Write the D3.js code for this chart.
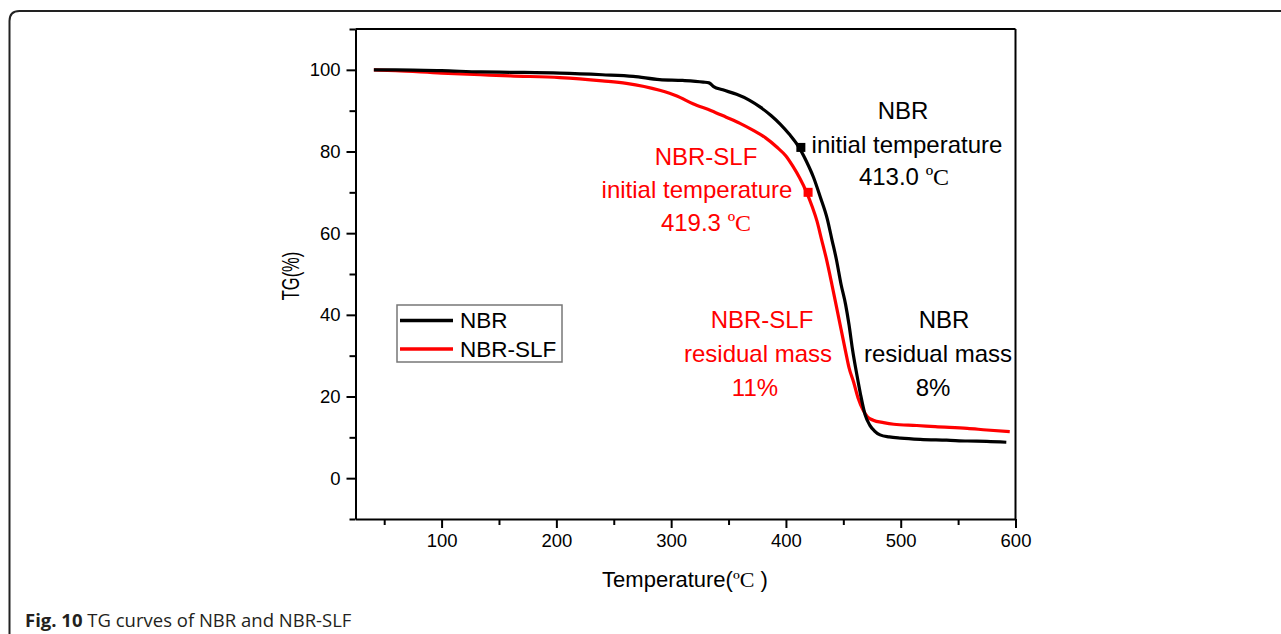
<!DOCTYPE html>
<html lang="en">
<head>
  <meta charset="UTF-8">
  <title>TG curves of NBR and NBR-SLF</title>
  <script src="https://d3js.org/d3.v7.min.js"></script>
  <style>
    body { margin: 0; background: #fff; }
    svg { display: block; }
    text { font-family: "Liberation Sans", Arial, sans-serif; }
    .axis path, .axis line { stroke: #000; stroke-width: 2px; }
    .axis text { font-size: 18.5px; fill: #000; }
    .curve { fill: none; stroke-width: 3.2px; stroke-linejoin: round; }
    .note { font-size: 24px; text-anchor: middle; }
    .deg { font-family: "Liberation Serif", "Times New Roman", serif; }
    .caption { font-family: "Open Sans", sans-serif; font-size: 18.5px; fill: #231f20; }
  </style>
</head>
<body>
  <svg width="1281" height="634"></svg>

  <script>
    // values
    const tempNBR = [41, 60, 100, 134, 160, 203, 240, 267, 290, 310, 328, 333, 337, 345, 357, 368, 378, 387, 395, 403, 411, 418, 424, 430, 436, 440, 444, 448, 452, 455, 458, 462, 465, 469, 473, 477, 482, 490, 500, 517, 540, 558, 575, 592];
    const tgNBR = [100, 100, 99.8, 99.5, 99.4, 99.2, 98.8, 98.4, 97.6, 97.4, 97.0, 96.8, 95.9, 95.1, 94.0, 92.6, 90.8, 88.8, 86.7, 84.2, 81.2, 77.5, 73.7, 68.8, 63.5, 58.5, 53.5, 47.5, 42.5, 37.5, 31.5, 25.0, 20.5, 15.5, 13.0, 11.6, 10.6, 10.1, 9.8, 9.5, 9.3, 9.1, 9.0, 8.8];

    const tempSLF = [41, 60, 100, 134, 160, 203, 240, 261, 290, 305, 319, 335, 348, 360, 372, 382, 392, 400, 406, 412, 418, 423, 427, 431, 435, 440, 444, 448, 452, 455, 459, 463, 467, 471, 476, 485, 494, 514, 530, 558, 575, 595];
    const tgSLF = [100, 99.8, 99.2, 98.8, 98.5, 98.1, 97.3, 96.7, 95.0, 93.6, 91.7, 90.0, 88.4, 86.9, 85.1, 83.4, 81.1, 78.9, 76.4, 73.5, 70.0, 66.4, 63.0, 58.5, 54.0, 47.5, 42.0, 36.5, 31.0, 27.0, 23.5, 19.5, 16.8, 15.0, 14.2, 13.6, 13.2, 12.9, 12.6, 12.2, 11.8, 11.4];

    const xMajor = [100, 200, 300, 400, 500, 600];
    const xMinor = [50, 150, 250, 350, 450, 550];
    const yMajor = [0, 20, 40, 60, 80, 100];
    const yMinor = [-10, 10, 30, 50, 70, 90, 110];

    // onset points (temperature, TG)
    const onsetNBR = [413.0, 81];
    const onsetSLF = [419.3, 70];

    const svg = d3.select("svg");

    // outer figure frame with rounded corner
    svg.append("path")
      .attr("d", "M9.5,640 L9.5,21 Q9.5,11 19.5,11 L1290,11")
      .attr("fill", "none")
      .attr("stroke", "#222")
      .attr("stroke-width", 2);

    const x = d3.scaleLinear().domain([25, 600]).range([355.5, 1015.5]);
    const y = d3.scaleLinear().domain([-10, 110]).range([519, 29]);

    // minor ticks first, then major axes
    svg.append("g").attr("class", "axis")
      .attr("transform", "translate(0,519)")
      .call(d3.axisBottom(x).tickValues(xMinor).tickSize(6).tickFormat("").tickSizeOuter(0))
      .select(".domain").remove();
    svg.append("g").attr("class", "axis")
      .attr("transform", "translate(355.5,0)")
      .call(d3.axisLeft(y).tickValues(yMinor).tickSize(6).tickFormat("").tickSizeOuter(0))
      .select(".domain").remove();

    const xAxis = svg.append("g").attr("class", "axis")
      .attr("transform", "translate(0,519)")
      .call(d3.axisBottom(x).tickValues(xMajor).tickSize(9).tickPadding(6).tickSizeOuter(0));
    xAxis.selectAll("text").attr("dy", "0.71em");

    svg.append("g").attr("class", "axis")
      .attr("transform", "translate(355.5,0)")
      .call(d3.axisLeft(y).tickValues(yMajor).tickSize(9).tickPadding(6).tickSizeOuter(0));

    // top and right frame lines
    svg.append("line").attr("x1", 355.5).attr("x2", 1015.5).attr("y1", 29).attr("y2", 29)
      .attr("stroke", "#000").attr("stroke-width", 2);
    svg.append("line").attr("x1", 1015.5).attr("x2", 1015.5).attr("y1", 29).attr("y2", 519)
      .attr("stroke", "#000").attr("stroke-width", 2);

    // axis titles
    const xt = svg.append("text")
      .attr("x", 685).attr("y", 587)
      .attr("text-anchor", "middle")
      .attr("font-size", 22);
    xt.append("tspan").text("Temperature(");
    xt.append("tspan").attr("class", "deg").text("ºC");
    xt.append("tspan").text(" )");

    svg.append("text")
      .attr("transform", "translate(299,276) rotate(-90) scale(1,1.4)")
      .attr("text-anchor", "middle")
      .attr("font-size", 16.5)
      .text("TG(%)");

    // curves
    const line = d3.line()
      .x(d => x(d[0]))
      .y(d => y(d[1]))
      .curve(d3.curveMonotoneX);

    svg.append("path")
      .attr("class", "curve")
      .attr("stroke", "#ff0000")
      .attr("d", line(d3.zip(tempSLF, tgSLF)));

    svg.append("path")
      .attr("class", "curve")
      .attr("stroke", "#000")
      .attr("d", line(d3.zip(tempNBR, tgNBR)));

    // onset markers
    svg.append("rect")
      .attr("x", x(onsetNBR[0]) - 4.5).attr("y", y(onsetNBR[1]) - 4.5)
      .attr("width", 9).attr("height", 9).attr("fill", "#000");
    svg.append("rect")
      .attr("x", x(onsetSLF[0]) - 4.5).attr("y", y(onsetSLF[1]) - 4.5)
      .attr("width", 9).attr("height", 9).attr("fill", "#ff0000");

    // annotations
    function note(lines, color) {
      lines.forEach(l => {
        const t = svg.append("text")
          .attr("class", "note")
          .attr("x", l[0]).attr("y", l[1])
          .attr("fill", color);
        if (l[3]) {
          t.append("tspan").text(l[2]);
          t.append("tspan").attr("class", "deg").text("ºC");
        } else {
          t.text(l[2]);
        }
      });
    }

    note([
      [903, 119, "NBR"],
      [907, 153, "initial temperature"],
      [904, 185, "413.0 ", true]
    ], "#000");

    note([
      [706, 165, "NBR-SLF"],
      [697, 198, "initial temperature"],
      [706, 231, "419.3 ", true]
    ], "#ff0000");

    note([
      [762, 328, "NBR-SLF"],
      [758, 362, "residual mass"],
      [755, 396, "11%"]
    ], "#ff0000");

    note([
      [944, 328, "NBR"],
      [938, 362, "residual mass"],
      [933, 396, "8%"]
    ], "#000");

    // legend
    const legend = svg.append("g");
    legend.append("rect")
      .attr("x", 397).attr("y", 305).attr("width", 165).attr("height", 57)
      .attr("fill", "#fff").attr("stroke", "#777").attr("stroke-width", 1.5);
    const items = [["NBR", "#000", 320.5], ["NBR-SLF", "#ff0000", 349]];
    items.forEach(d => {
      legend.append("line")
        .attr("x1", 400).attr("x2", 453).attr("y1", d[2]).attr("y2", d[2])
        .attr("stroke", d[1]).attr("stroke-width", 3.5);
      legend.append("text")
        .attr("x", 460).attr("y", d[2] + 7.5)
        .attr("font-size", 22.5)
        .text(d[0]);
    });

    // caption
    const cap = svg.append("text")
      .attr("class", "caption")
      .attr("x", 25).attr("y", 627);
    cap.append("tspan").attr("font-weight", "bold").text("Fig. 10");
    cap.append("tspan").text(" TG curves of NBR and NBR-SLF");
  </script>
</body>
</html>
